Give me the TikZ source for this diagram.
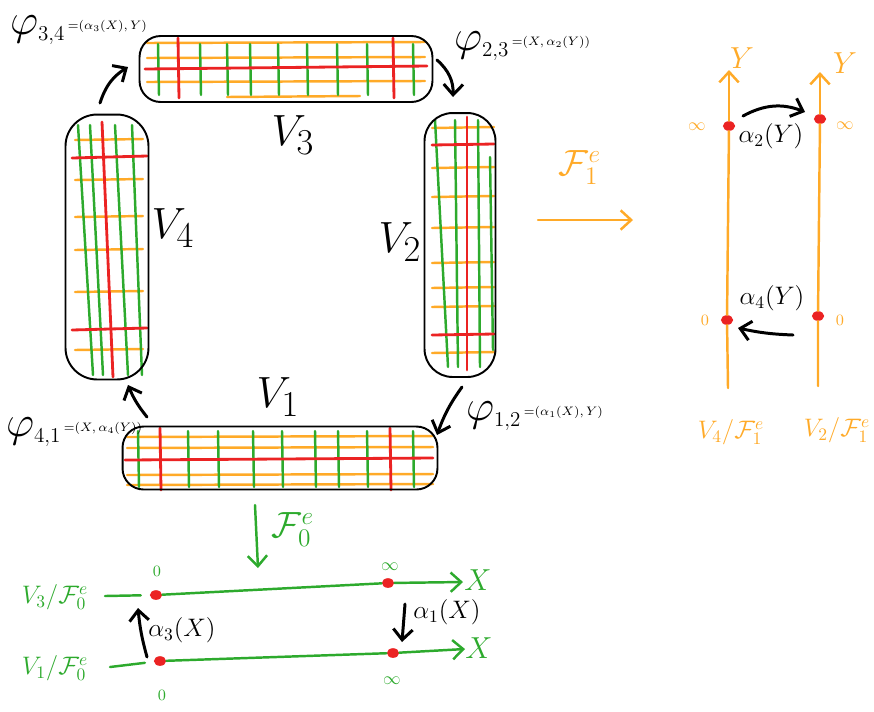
\documentclass[tikz,border=0pt]{standalone}
\usetikzlibrary{arrows.meta,calc,positioning,shapes.geometric}
\definecolor{fgreen}{RGB}{45,170,45}
\definecolor{forange}{RGB}{255,170,40}
\definecolor{fred}{RGB}{235,35,35}

\begin{document}
\begin{tikzpicture}[x=0.02cm,y=-0.02cm,>={Straight Barb[length=6pt,width=11pt]},
  chart/.style={draw,line width=1.1pt,inner sep=0pt},
  gline/.style={fgreen,line width=1.4pt,line cap=round},
  oline/.style={forange,line width=1.4pt,line cap=round},
  rline/.style={fred,line width=1.6pt,line cap=round},
  trans/.style={->,line width=1.7pt,line cap=round},
  pt/.style={ellipse,fill=fred,inner sep=0pt,minimum width=7pt,minimum height=5.5pt},
  lbl/.style={font=\Huge},
  maplbl/.style={font=\Huge,inner sep=1pt,anchor=west},
  maprhs/.style={font=\scriptsize,inner sep=0pt,anchor=north west}]
  \useasboundingbox (0,0) rectangle (874,711);

  % chart V_3
  \foreach \y in {43,58,82} \draw[oline] (147,\y) -- (425,\y-1);
  \draw[oline] (227,97) -- (360,96);
  \foreach \x in {158,200,227,250,278,307,337,367,413} \draw[gline] (\x,44) -- (\x+1,95);
  \draw[rline] (145,69) -- (427,66);
  \foreach \x in {178,393} \draw[rline] (\x,38) -- (\x+1,98);
  \node[chart,rounded corners=12pt,minimum width=5.86cm,minimum height=1.32cm] (v3) at (286,69) {};

  % chart V_4
  \foreach \y in {140,180,217,250,292,350} \draw[oline] (75,\y) -- (143,\y-1);
  \foreach \t/\b in {78/93,90/103,115/128,132/142} \draw[gline] (\t,125) -- (\b,375);
  \foreach \y in {158,330} \draw[rline] (72,\y) -- (147,\y-2);
  \draw[rline] (102,122) -- (113,377);
  \node[chart,rounded corners=18pt,minimum width=1.66cm,minimum height=5.3cm] (v4) at (107,247) {};

  % chart V_2
  \foreach \y in {128,168,197,228,263,288,307,353} \draw[oline] (432,\y) -- (494,\y-1);
  \foreach \t/\b in {435/448,455/458,478/480} \draw[gline] (\t,120) -- (\b,367);
  \draw[gline] (490,157) -- (493,350);
  \foreach \y in {145,335} \draw[rline] (432,\y) -- (494,\y-1);
  \draw[rline] (467,117) -- (467,370);
  \node[chart,rounded corners=16pt,minimum width=1.42cm,minimum height=5.28cm] (v2) at (460,245) {};

  % chart V_1
  \foreach \y in {437,448,475,485} \draw[oline] (127,\y) -- (433,\y-1);
  \foreach \x in {138,188,218,253,282,315,338,367,413} \draw[gline] (\x,431) -- (\x+1,487);
  \draw[rline] (125,460) -- (433,458);
  \foreach \x in {160,390} \draw[rline] (\x,428) -- (\x+1,490);
  \node[chart,rounded corners=12pt,minimum width=6.3cm,minimum height=1.26cm] (v1) at (280,458) {};

  \node[lbl] (l3) at (293,135) {$V_3$};
  \node[lbl] (l4) at (173,228) {$V_4$};
  \node[lbl] (l2) at (400,242) {$V_2$};
  \node[lbl] (l1) at (278,397) {$V_1$};

  % transition maps
  \coordinate (s34) at (100,103); \coordinate (e34) at (128,67);
  \coordinate (s23) at (437,60);  \coordinate (e23) at (453,97);
  \coordinate (s12) at (462,387); \coordinate (e12) at (437,435);
  \coordinate (s41) at (147,417); \coordinate (e41) at (128,385);
  \draw[trans] (s34) to[bend left=20] (e34);
  \draw[trans] (s23) to[bend left=25] (e23);
  \draw[trans] (s12) to[bend right=8] (e12);
  \draw[trans] (s41) to[bend left=8] (e41);
  \node[maplbl] (p34) at (8,30) {$\varphi_{\hbox{\large$3{,}4$}}$};
  \node[maprhs] (r34) at ([yshift=-4pt]p34.north east) {${=}(\alpha_3(X),Y)$};
  \node[maplbl] (p23) at (452,46) {$\varphi_{\hbox{\large$2{,}3$}}$};
  \node[maprhs] (r23) at ([yshift=-4pt]p23.north east) {${=}(X,\alpha_2(Y))$};
  \node[maplbl] (p12) at (464,416) {$\varphi_{\hbox{\large$1{,}2$}}$};
  \node[maprhs] (r12) at ([yshift=-4pt]p12.north east) {${=}(\alpha_1(X),Y)$};
  \node[maplbl] (p41) at (4,432) {$\varphi_{\hbox{\large$4{,}1$}}$};
  \node[maprhs] (r41) at ([yshift=-4pt]p41.north east) {${=}(X,\alpha_4(Y))$};

  % quotient by F_1
  \node[font=\huge,text=forange] (f1) at (580,168) {$\mathcal{F}^{e}_{1}$};
  \coordinate (f1s) at (538,220); \coordinate (f1e) at (633,220);
  \draw[oline,->] (f1s) -- (f1e);

  \node[pt] (y4inf) at (729,126) {};
  \node[pt] (y4zero) at (727,320) {};
  \node[pt] (y2inf) at (820,119) {};
  \node[pt] (y2zero) at (818,316) {};
  \coordinate (y4bot) at (728,388); \coordinate (y4top) at (729,70);
  \coordinate (y2bot) at (818,386); \coordinate (y2top) at (820,72);
  \draw[oline] (y4bot) -- (y4zero) -- (y4inf);
  \draw[oline,->] (y4inf) -- (y4top);
  \draw[oline] (y2bot) -- (y2zero) -- (y2inf);
  \draw[oline,->] (y2inf) -- (y2top);
  \node[font=\LARGE,text=forange] (ylab4) at (742,58) {$Y$};
  \node[font=\LARGE,text=forange] (ylab2) at (845,63) {$Y$};
  \node[text=forange] (i4) at (697,127) {$\infty$};
  \node[text=forange] (i2) at (845,126) {$\infty$};
  \node[font=\small,text=forange] (z4) at (705,320) {$0$};
  \node[font=\small,text=forange] (z2) at (840,320) {$0$};
  \node[font=\Large,text=forange] (q4) at (731,432) {$V_4/\mathcal{F}^e_1$};
  \node[font=\Large,text=forange] (q2) at (837,430) {$V_2/\mathcal{F}^e_1$};

  \coordinate (a2s) at (743,116); \coordinate (a2e) at (805,112);
  \draw[trans] (a2s) to[bend left=25] (a2e);
  \node[font=\Large] (a2) at (771,136) {$\alpha_2(Y)$};
  \coordinate (a4s) at (793,335); \coordinate (a4e) at (738,328);
  \draw[trans] (a4s) to[bend left=5] (a4e);
  \node[font=\Large] (a4) at (772,298) {$\alpha_4(Y)$};

  % quotient by F_0
  \coordinate (f0s) at (255,505); \coordinate (f0e) at (258,568);
  \draw[gline,->] (f0s) -- (f0e);
  \node[font=\huge,text=fgreen] (f0) at (293,530) {$\mathcal{F}^{e}_{0}$};

  \node[pt] (x3zero) at (156,595) {};
  \node[pt] (x3inf) at (388,583) {};
  \node[pt] (x1zero) at (160,661) {};
  \node[pt] (x1inf) at (393,653) {};
  \coordinate (x3l) at (105,596); \coordinate (x3r) at (463,582);
  \coordinate (x1l) at (110,667); \coordinate (x1r) at (465,649);
  \draw[gline,shorten >=5pt] (x3l) -- (x3zero);
  \draw[gline] (x3zero) -- (x3inf);
  \draw[gline,->] (x3inf) -- (x3r);
  \draw[gline,shorten >=5pt] (x1l) -- (x1zero);
  \draw[gline] (x1zero) -- (x1inf);
  \draw[gline,->] (x1inf) -- (x1r);
  \node[font=\LARGE,text=fgreen] (xlab3) at (478,580) {$X$};
  \node[font=\LARGE,text=fgreen] (xlab1) at (479,648) {$X$};
  \node[font=\Large,text=fgreen] (q3) at (55,597) {$V_3/\mathcal{F}^e_0$};
  \node[font=\Large,text=fgreen] (q1) at (55,668) {$V_1/\mathcal{F}^e_0$};
  \node[font=\small,text=fgreen] (z3) at (157,571) {$0$};
  \node[font=\small,text=fgreen] (z1) at (162,695) {$0$};
  \node[text=fgreen] (i3) at (390,567) {$\infty$};
  \node[text=fgreen] (i1) at (392,681) {$\infty$};

  \coordinate (a3s) at (147,657); \coordinate (a3e) at (138,608);
  \draw[trans] (a3s) to[bend left=5] (a3e);
  \node[font=\Large] (a3) at (182,630) {$\alpha_3(X)$};
  \coordinate (a1s) at (405,604); \coordinate (a1e) at (402,642);
  \draw[trans] (a1s) -- (a1e);
  \node[font=\Large] (a1) at (447,612) {$\alpha_1(X)$};
\end{tikzpicture}
\end{document}
